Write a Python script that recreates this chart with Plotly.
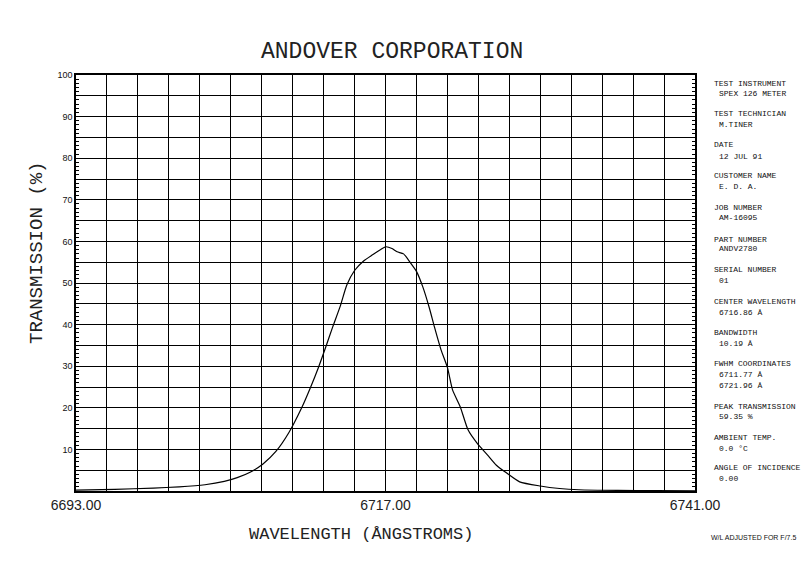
import numpy as np
import plotly.graph_objects as go

# ---- data ----
wavelength = [6693, 6696, 6699, 6701, 6703, 6704.5, 6705.5, 6706.5, 6707.5, 6708.5,
              6709.5, 6710.5, 6711.2, 6711.8, 6712.3, 6712.9, 6713.5, 6714.0, 6714.6,
              6715.3, 6716.0, 6716.6, 6717.0, 6717.5, 6717.9, 6718.4, 6718.9, 6719.4,
              6719.9, 6720.4, 6720.8, 6721.3, 6721.8, 6722.2, 6722.8, 6723.4, 6724.1,
              6724.9, 6725.6, 6726.4, 6727.4, 6729.0, 6730.5, 6732.0, 6735.0, 6738.0, 6741.0]
transmission = [0.2, 0.4, 0.7, 1.0, 1.5, 2.3, 3.2, 4.5, 6.5, 9.5,
                14.0, 20.0, 25.0, 29.7, 34.0, 39.4, 44.5, 49.5, 53.0,
                55.3, 56.8, 58.0, 58.7, 58.3, 57.5, 57.0, 55.0, 52.8,
                49.0, 44.0, 39.4, 34.0, 29.7, 24.3, 20.2, 14.7, 11.5,
                8.7, 6.2, 4.3, 2.2, 1.2, 0.6, 0.3, 0.15, 0.1, 0.05]

x_grid = [6693.0 + 2.4 * i for i in range(21)]
x_ticktext = ["6693.00" if i == 0 else "6717.00" if i == 10 else "6741.00" if i == 20 else "" for i in range(21)]
y_grid = list(range(0, 101, 5))
y_ticktext = [str(v) if (v % 10 == 0 and v > 0) else "" for v in y_grid]

title_text = "ANDOVER CORPORATION"
x_title = "WAVELENGTH (ÅNGSTROMS)"
y_title = "TRANSMISSION (%)"

info_lines = [
    ("TEST INSTRUMENT", 83, 0), ("SPEX 126 METER", 94, 1),
    ("TEST TECHNICIAN", 113, 0), ("M.TINER", 124, 1),
    ("DATE", 144, 0), ("12 JUL 91", 156, 1),
    ("CUSTOMER NAME", 175, 0), ("E. D. A.", 186, 1),
    ("JOB NUMBER", 207, 0), ("AM-16095", 217, 1),
    ("PART NUMBER", 239, 0), ("ANDV2780", 249, 1),
    ("SERIAL NUMBER", 269, 0), ("01", 280, 1),
    ("CENTER WAVELENGTH", 301, 0), ("6716.86 Å", 312, 1),
    ("BANDWIDTH", 332, 0), ("10.19 Å", 343, 1),
    ("FWHM COORDINATES", 363, 0), ("6711.77 Å", 374, 1), ("6721.96 Å", 385, 1),
    ("PEAK TRANSMISSION", 406, 0), ("59.35 %", 416, 1),
    ("AMBIENT TEMP.", 437, 0), ("0.0 °C", 448, 1),
    ("ANGLE OF INCIDENCE", 467, 0), ("0.00", 478, 1),
]
footnote = "W/L ADJUSTED FOR F/7.5"

# ---- layout geometry (target pixels; page body adds an 8px offset) ----
OFF = 8
W, H = 810 - 2 * OFF, 564 - 2 * OFF
L, R, T, B = 76 - OFF, 695 - OFF, 75 - OFF, 491 - OFF


def px(x):
    return (x - OFF - L) / (R - L)


def py(y):
    return (B - (y - OFF)) / (B - T)


fig = go.Figure()
fig.add_trace(go.Scatter(x=wavelength, y=transmission, mode="lines",
                         line=dict(color="black", width=1.2, shape="spline", smoothing=0.6),
                         hoverinfo="skip", showlegend=False))

ann = []
ann.append(dict(text=title_text, x=px(392), y=py(52), xref="paper", yref="paper",
                showarrow=False, xanchor="center", yanchor="middle",
                font=dict(family="Liberation Mono", size=23, color="#222")))
ann.append(dict(text=y_title, x=px(37), y=py(253), xref="paper", yref="paper",
                showarrow=False, textangle=-90, xanchor="center", yanchor="middle",
                font=dict(family="Liberation Mono", size=19, color="#222")))
ann.append(dict(text=x_title, x=px(361), y=py(534), xref="paper", yref="paper",
                showarrow=False, xanchor="center", yanchor="middle",
                font=dict(family="Liberation Mono", size=17, color="#222")))
for txt, ypix, indent in info_lines:
    ann.append(dict(text=txt, x=px(712 + 5 * indent), y=py(ypix), xref="paper", yref="paper",
                    showarrow=False, xanchor="left", yanchor="middle",
                    font=dict(family="Liberation Mono", size=8, color="#111")))
ann.append(dict(text=footnote, x=px(798), y=py(537), xref="paper", yref="paper",
                showarrow=False, xanchor="right", yanchor="middle",
                font=dict(family="Liberation Sans", size=7, color="#111")))

fig.update_layout(
    width=W, height=H,
    margin=dict(l=L, r=W - R, t=T, b=H - B),
    paper_bgcolor="white", plot_bgcolor="white",
    annotations=ann,
    xaxis=dict(range=[6693, 6741], tickmode="array", tickvals=x_grid, ticktext=x_ticktext,
               showgrid=True, gridcolor="black", gridwidth=1, zeroline=False,
               showline=True, linecolor="black", linewidth=1.5, mirror=True,
               ticks="", tickfont=dict(family="Liberation Sans", size=14, color="#222")),
    yaxis=dict(range=[0, 100], tickmode="array", tickvals=y_grid, ticktext=y_ticktext,
               showgrid=True, gridcolor="black", gridwidth=1, zeroline=False,
               showline=True, linecolor="black", linewidth=1.5, mirror="ticks",
               ticks="inside", ticklen=6, tickcolor="black",
               minor=dict(dtick=1, ticks="inside", ticklen=3, tickcolor="black", showgrid=False),
               tickfont=dict(family="Liberation Sans", size=9, color="#111")),
)

fig.write_html("out.html")
